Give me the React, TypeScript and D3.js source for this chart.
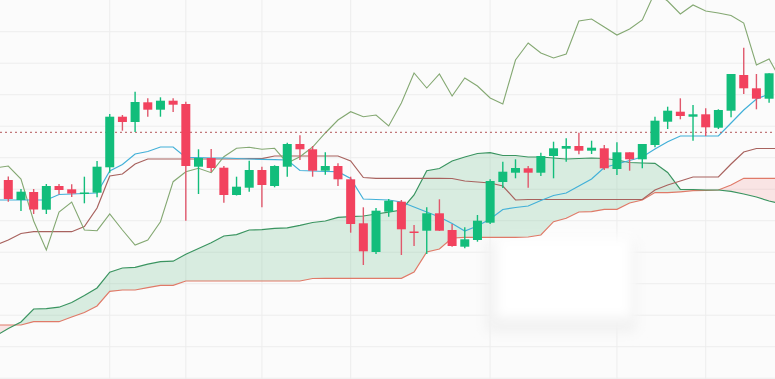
import React from 'react';
import * as d3 from 'd3';

const W = 775;
const H = 379;

// Candles (index 0..60)
const candleOpen = [220, 200, 208, 190.3, 214, 210.7, 206, 207.3, 232.7, 283.3, 278, 297.7, 290.3, 299.3, 296, 233.3, 242, 232.3, 205, 212.3, 230, 214, 233.3, 256, 250.7, 229.3, 234, 220.7, 176.7, 148, 188.3, 198.3, 168.5, 169.3, 186.7, 170, 153.3, 160, 177.3, 218, 227.3, 231.7, 227.3, 244, 251.3, 254, 249.3, 251.7, 231, 247.7, 240.7, 255, 278.3, 288.3, 283.3, 285.7, 272.3, 289.3, 325, 311.7, 301.3];
const candleClose = [201, 208.3, 190.5, 214, 210, 206.5, 207.5, 233.3, 283.3, 278, 298, 290.3, 299.3, 295.3, 234, 242, 232, 205, 213.3, 230, 215, 234, 256, 250.7, 229.3, 234, 220.7, 176, 148.7, 189.3, 199.3, 170.7, 167.5, 186.7, 169.3, 154, 160.7, 179.3, 219, 228.3, 232, 227.3, 244, 251.7, 254, 249.3, 252.3, 231.7, 247.7, 240.7, 256, 279.3, 289.3, 284, 285.7, 272.7, 290, 326, 311.7, 301.3, 326.7];
const candleHigh = [223.5, 211, 211, 216, 216, 215.7, 223.3, 239, 286, 285, 308.3, 301.7, 302.7, 301.7, 298.3, 250.7, 251, 234, 223.3, 239.3, 233.3, 234.7, 257.3, 264.7, 254, 247.7, 236.7, 223.3, 192.7, 192, 201, 200, 175, 192.7, 200.7, 176, 172.7, 185, 220.7, 238.3, 240.7, 234, 247.3, 258.3, 261.7, 267.3, 259.3, 255, 257.7, 247.7, 256, 283.3, 293.3, 301.7, 295, 291.7, 290.7, 326, 352.3, 326, 326.7];
const candleLow = [198.3, 189, 186, 186, 205.7, 203, 196.7, 202.7, 227.3, 269.3, 268, 283.3, 283.3, 288, 179.3, 206, 228, 197.3, 204.5, 208.3, 192.7, 212.7, 223.3, 240, 223.3, 225.3, 214, 167.3, 135, 146, 183.3, 145, 154, 146, 169, 153.3, 151.7, 158.3, 176, 212, 221.7, 212.3, 224, 221.7, 238.3, 245.7, 246, 230, 225, 229.3, 231.7, 252.7, 271, 280.7, 259.3, 264, 271, 282.7, 306, 290.7, 297.3];

// Ichimoku lines, first value at index -1
const lineStart = -1;
const tenkan = [200, 200, 200, 200, 200, 205.5, 206, 206.5, 207, 229, 235.5, 246, 248.5, 253, 253, 242.5, 242.5, 242, 242, 241.5, 241, 240.7, 240.4, 240, 229.5, 229, 228.5, 228.3, 221.5, 201, 200.5, 200, 198, 193, 188, 183, 176.5, 169, 174, 181, 190.5, 192.5, 194, 199.5, 204.5, 207, 214, 221, 232.5, 236, 239.5, 243, 251, 258.3, 264, 264, 264, 264, 277, 290, 301, 306];
const kijun = [155, 160, 166.5, 168.3, 168.3, 168.3, 168.3, 173.5, 192, 224, 226, 236, 241, 241, 241, 241, 241, 241, 241, 241, 241.3, 241.3, 244, 244, 244, 244, 244, 244, 239, 222.5, 221.7, 221.7, 221.7, 221.7, 221.7, 221.7, 221.5, 219, 218, 217, 214, 200, 200.5, 200.5, 200.5, 200.5, 200.5, 200.5, 200.5, 200.5, 200.5, 200.5, 210, 215, 219, 223, 223, 223, 236, 248, 251.5, 251.5, 251.5];
const chikou = [232, 234, 221, 179, 150, 188, 198, 170, 169.3, 186, 170, 155, 160, 178.3, 218.3, 228.3, 231.7, 227.3, 243.3, 251.7, 252.7, 250.7, 251.7, 237, 243.3, 253, 267, 280, 288.3, 283.3, 285, 274, 297, 327, 312, 326, 304, 322, 314, 302, 296, 340, 357, 347, 342, 346, 379, 381, 373, 365, 371, 380, 408, 399, 386, 395, 389, 387, 384.5, 377, 335, 341, 318];
const senkouA = [64, 71.5, 78, 91, 91.3, 92.8, 97.5, 104.5, 112, 127.8, 132, 132.7, 135.8, 138.3, 138.8, 145.7, 151.5, 157.2, 164, 165.4, 170, 170.3, 171.7, 172.2, 174.7, 177.5, 179, 182.6, 183.3, 184, 186, 187.8, 190, 205, 229.3, 231.5, 239, 243, 246.5, 247.3, 244.5, 244.5, 243, 243, 242, 241, 241.5, 242, 241.5, 240, 237.5, 237, 236.7, 227.5, 210.7, 210.5, 210, 210, 208.7, 206, 203, 199, 196];
const senkouB = [75, 75, 75, 78.3, 78.3, 78.3, 83, 87.5, 94, 108.7, 110, 110, 112.3, 114.7, 114.7, 119, 119, 119, 119, 119, 119, 119, 119, 119, 119, 121.5, 121.7, 121.7, 121.7, 121.7, 121.7, 121.7, 121.7, 128, 148, 151, 162, 162.7, 162.7, 162.7, 162.7, 162.7, 163, 165, 178.3, 181.7, 188, 188.3, 190.7, 190.7, 197, 200, 207.5, 207.3, 208.2, 209.3, 209.7, 210, 215, 221.7, 221.7, 221.7, 221.7];

const gridCandleIdx = [8, 14, 20, 27, 38, 48, 55];
const gridLevels = [368.3, 336.8, 305.3, 273.8, 242.3, 210.8, 179.3, 147.8, 116.3, 84.8, 53.3, 21.8];
const lastPrice = 267.7;

const UP = '#12bd7b';
const DOWN = '#f2425e';
const DOWN_WICK = '#e0586c';

type P = { i: number; v: number };

export default function App() {
  const x = d3.scaleLinear().domain([0, 60]).range([8.3, 769.1]);
  const y = d3.scaleLinear().domain([21, 400]).range([H, 0]);

  const toPts = (arr: number[]): P[] => arr.map((v, k) => ({ i: lineStart + k, v }));
  const line = d3.line<P>().x(d => x(d.i)).y(d => y(d.v));

  const cloud = senkouA.map((a, k) => ({ i: lineStart + k, a, b: senkouB[k] }));
  type C = typeof cloud[number];
  const clipAbove = d3.area<C>().x(d => x(d.i)).y0(0).y1(d => y(d.a))(cloud) || '';
  const clipBelow = d3.area<C>().x(d => x(d.i)).y0(H).y1(d => y(d.a))(cloud) || '';
  const greenArea = d3.area<C>().x(d => x(d.i)).y0(0).y1(d => y(d.b))(cloud) || '';
  const redArea = d3.area<C>().x(d => x(d.i)).y0(H).y1(d => y(d.b))(cloud) || '';

  const bodyW = 9;

  return (
    <svg width={W} height={H} style={{ position: 'absolute', left: 0, top: 0, background: '#fbfbfb' }}
      xmlns="http://www.w3.org/2000/svg">
      <defs>
        <clipPath id="aboveA"><path d={clipAbove} /></clipPath>
        <clipPath id="belowA"><path d={clipBelow} /></clipPath>
        <filter id="soft" x="-20%" y="-20%" width="140%" height="140%">
          <feGaussianBlur stdDeviation="6" />
        </filter>
      </defs>
      <rect x={0} y={0} width={W} height={H} fill="#fbfbfb" />
      {gridLevels.map((g, k) => (
        <line key={'h' + k} x1={0} x2={W} y1={y(g)} y2={y(g)} stroke="#ededed" strokeWidth={1} />
      ))}
      {gridCandleIdx.map((g, k) => (
        <line key={'v' + k} x1={x(g)} x2={x(g)} y1={0} y2={H} stroke="#ededed" strokeWidth={1} />
      ))}
      {/* blurred watermark patch */}
      <rect x={486} y={242} width={150} height={90} fill="#f1f1f1" filter="url(#soft)" />
      <rect x={496} y={236} width={136} height={82} fill="#ffffff" filter="url(#soft)" />

      <path d={greenArea} clipPath="url(#belowA)" fill="rgba(70,175,110,0.19)" />
      <path d={redArea} clipPath="url(#aboveA)" fill="rgba(240,90,90,0.14)" />
      <path d={line(toPts(senkouB)) || ''} fill="none" stroke="#e07a68" strokeWidth={1.2} />
      <path d={line(toPts(senkouA)) || ''} fill="none" stroke="#3a9460" strokeWidth={1.2} />
      <path d={line(toPts(kijun)) || ''} fill="none" stroke="#a8625e" strokeWidth={1.2} />
      <path d={line(toPts(chikou)) || ''} fill="none" stroke="#84a872" strokeWidth={1.1} />
      <path d={line(toPts(tenkan)) || ''} fill="none" stroke="#42b0d8" strokeWidth={1.2} />
      <line x1={0} x2={W} y1={y(lastPrice)} y2={y(lastPrice)} stroke="#b4585a" strokeWidth={1} strokeDasharray="2 3" />

      {candleOpen.map((o, i) => {
        const c = candleClose[i];
        const up = c >= o;
        const cx = x(i);
        const top = y(Math.max(o, c));
        const bot = y(Math.min(o, c));
        return (
          <g key={'c' + i}>
            <line x1={cx} x2={cx} y1={y(candleHigh[i])} y2={y(candleLow[i])}
              stroke={up ? UP : DOWN_WICK} strokeWidth={1.4} />
            <rect x={cx - bodyW / 2} y={top} width={bodyW} height={Math.max(1.5, bot - top)}
              fill={up ? UP : DOWN} />
          </g>
        );
      })}
    </svg>
  );
}
